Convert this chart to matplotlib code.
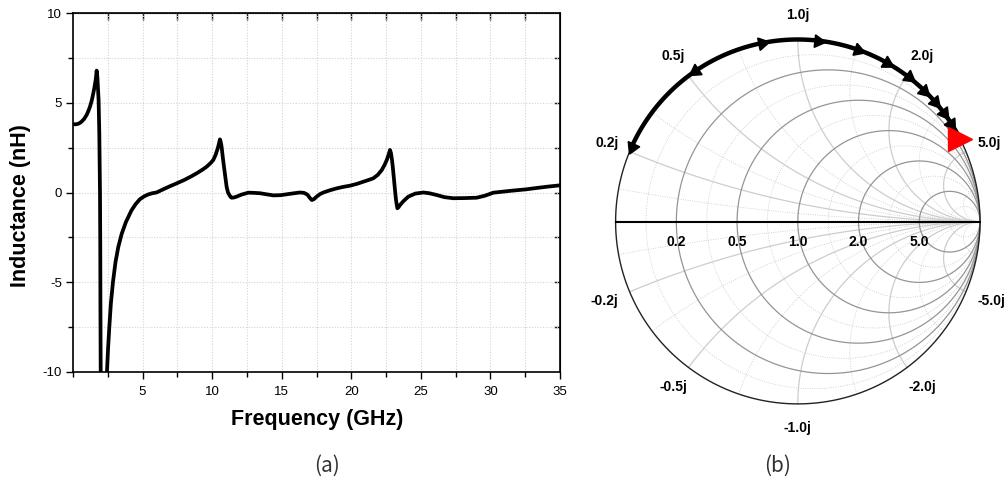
import numpy as np
import matplotlib
matplotlib.use("Agg")
import matplotlib.pyplot as plt
from matplotlib.ticker import MultipleLocator

plt.rcParams['font.family'] = ['Liberation Sans', 'DejaVu Sans']
plt.rcParams['axes.unicode_minus'] = False

# ---------------- data: (a) inductance vs frequency ----------------
freq_ghz = [0.00, 0.20, 0.38, 0.50, 0.62, 0.80, 0.98, 1.10, 1.22, 1.34, 1.46,
            1.55, 1.63, 1.67, 1.70, 1.75, 1.84, 1.89, 1.94, 1.96, 1.97, 1.99,
            2.01,
            np.nan,
            2.40, 2.44, 2.52, 2.61, 2.72, 2.87, 3.05, 3.25, 3.50, 3.80, 4.20,
            4.50, 4.80, 5.10, 5.40, 5.70, 6.00, 6.60, 7.00, 7.45, 8.00, 8.50,
            8.89, 9.30, 9.61, 9.90, 10.08, 10.25, 10.40, 10.50, 10.56,
            10.62, 10.68, 10.76, 10.85, 10.95, 11.04, 11.14, 11.24, 11.32,
            11.40, 11.55, 11.76, 12.10, 12.60, 13.00, 13.44, 13.90, 14.40,
            14.90, 15.36, 15.90, 16.31, 16.60, 16.85, 17.00, 17.16, 17.30,
            17.51, 17.75, 17.99, 18.45, 18.95, 19.40, 19.91, 20.40, 20.86,
            21.25, 21.58, 21.90, 22.19, 22.40, 22.55, 22.70, 22.78,
            22.85, 22.92, 22.98, 23.06, 23.14, 23.22, 23.31, 23.40, 23.50,
            23.75, 24.10, 24.60, 25.18, 25.60, 26.14, 26.70, 27.33, 28.20,
            29.01, 29.60, 30.21, 31.40, 32.61, 33.30, 34.04, 35.00]
inductance_nh = [3.80, 3.80, 3.83, 3.88, 3.95, 4.10, 4.32, 4.53, 4.78, 5.10, 5.53,
                 5.90, 6.27, 6.55, 6.79, 6.45, 5.15, 3.30, 0.00, -3.00, -6.00, -10.0,
                 -14.0,
                 np.nan,
                 -12.0, -10.0, -8.70, -7.50, -6.20, -5.00, -3.90, -3.05, -2.30,
                 -1.65, -1.00, -0.65, -0.38, -0.22, -0.11, -0.04, 0.00, 0.22,
                 0.36, 0.51, 0.70, 0.90, 1.07, 1.27, 1.44, 1.65, 1.81, 2.10,
                 2.45, 2.75, 2.96,
                 2.80, 2.55, 2.00, 1.44, 0.85, 0.32, 0.00, -0.14, -0.24,
                 -0.29, -0.28, -0.23, -0.12, -0.01, -0.02, -0.04, -0.10, -0.16,
                 -0.15, -0.10, -0.04, 0.00, -0.02, -0.12, -0.28, -0.42, -0.38,
                 -0.23, -0.09, 0.00, 0.12, 0.23, 0.31, 0.38, 0.48, 0.60,
                 0.70, 0.79, 0.98, 1.25, 1.55, 1.81, 2.15, 2.37,
                 2.20, 1.85, 1.44, 0.80, 0.14, -0.45, -0.88, -0.82, -0.70,
                 -0.48, -0.23, -0.06, 0.00, -0.04, -0.14, -0.26, -0.32, -0.31,
                 -0.29, -0.18, -0.01, 0.09, 0.18, 0.25, 0.32, 0.40]
x_ticks = [5, 10, 15, 20, 25, 30, 35]
y_ticks = [-10, -5, 0, 5, 10]

# ---------------- data: (b) Smith chart ----------------
r_major = [0.2, 0.5, 1.0, 2.0, 5.0]
r_major_labels = ['0.2', '0.5', '1.0', '2.0', '5.0']
x_major = [0.2, 0.5, 1.0, 2.0, 5.0, -0.2, -0.5, -1.0, -2.0, -5.0]
x_major_labels = ['0.2j', '0.5j', '1.0j', '2.0j', '5.0j',
                  '-0.2j', '-0.5j', '-1.0j', '-2.0j', '-5.0j']
minor_values = [1 / 11, 1 / 3, 5 / 7, 7 / 5, 3.0, 11.0]
trace_reactance = [0.215, 0.527, 0.818, 1.118, 1.413, 1.714, 2.03, 2.356,
                   2.66, 3.02, 3.43, 4.14]
trace_direction = [-1, -1, 1, 1, 1, 1, 1, 1, 1, 1, 1, 0]

W, H = 1006, 483
fig = plt.figure(figsize=(W / 100, H / 100), dpi=100)

# ---------------- (a) ----------------
L, R, T, B = 73, 560, 13, 372
ax = fig.add_axes([L / W, 1 - B / H, (R - L) / W, (B - T) / H])
ax.plot(freq_ghz, inductance_nh, color='black', lw=2.7, solid_capstyle='round',
        solid_joinstyle='round')
ax.set_xlim(0, 35)
ax.set_ylim(-10, 10)
ax.set_xticks(x_ticks)
ax.set_yticks(y_ticks)
ax.xaxis.set_minor_locator(MultipleLocator(2.5))
ax.yaxis.set_minor_locator(MultipleLocator(2.5))
ax.grid(True, which='both', color='#d4d4d4', lw=0.8, ls=(0, (1, 1.5)))
ax.set_axisbelow(True)
ax.tick_params(which='both', direction='out', labelsize=9.5, width=1.0, pad=3,
               colors='black')
ax.tick_params(which='major', length=5)
ax.tick_params(which='minor', length=3.5)
ax.tick_params(axis='x', pad=5)
for s in ax.spines.values():
    s.set_linewidth(1.2)
secx = ax.secondary_xaxis('top')
secx.set_xticks(np.arange(2.5, 35, 2.5))
secx.tick_params(direction='in', length=5, width=1.0, labeltop=False)
secy = ax.secondary_yaxis('right')
secy.set_yticks(np.arange(-7.5, 10, 2.5))
secy.tick_params(direction='in', length=4, width=1.0, labelright=False)

fig.text(21 / W, 1 - 206 / H, 'Inductance (nH)', rotation=90, ha='center',
         va='center', fontsize=15.5, fontweight='bold')
fig.text(317 / W, 1 - 420 / H, 'Frequency (GHz)', ha='center', va='center',
         fontsize=15.5, fontweight='bold')

cap_font = ['Noto Sans CJK KR', 'DejaVu Sans']
fig.text(327 / W, 1 - 466 / H, '(a)', ha='center', va='center', fontsize=15,
         family=cap_font, color='#333333')
fig.text(778 / W, 1 - 466 / H, '(b)', ha='center', va='center', fontsize=15,
         family=cap_font, color='#333333')

# ---------------- (b) Smith chart ----------------
cx, cy, rad = 797.8, 221.7, 182.2
sl, sr, st, sb = 590, 1006, 0, 440
sax = fig.add_axes([sl / W, 1 - sb / H, (sr - sl) / W, (sb - st) / H])
sax.set_xlim((sl - cx) / rad, (sr - cx) / rad)
sax.set_ylim((cy - sb) / rad, (cy - st) / rad)
sax.axis('off')


def r_circle(r):
    t = np.linspace(0, 2 * np.pi, 500)
    c = r / (1 + r)
    rr = 1 / (1 + r)
    return c + rr * np.cos(t), rr * np.sin(t)


def x_arc(x):
    s = np.linspace(0, np.pi / 2, 800)[:-1]
    z = np.tan(s) + 1j * x
    g = (z - 1) / (z + 1)
    g = np.append(g, 1 + 0j)
    return g.real, g.imag


for v in minor_values:
    u, w = r_circle(v)
    sax.plot(u, w, color='#c4c4c4', lw=0.6, ls=(0, (1, 1.8)))
    for sgn in (1, -1):
        u, w = x_arc(sgn * v)
        sax.plot(u, w, color='#c4c4c4', lw=0.6, ls=(0, (1, 1.8)))

for v in x_major:
    u, w = x_arc(v)
    sax.plot(u, w, color='#cdcdcd', lw=0.9)
for v in r_major:
    u, w = r_circle(v)
    sax.plot(u, w, color='#959595', lw=0.9)

t = np.linspace(0, 2 * np.pi, 800)
sax.plot(np.cos(t), np.sin(t), color='#222222', lw=1.0)
sax.plot([-1, 1], [0, 0], color='black', lw=1.5)

for v, lab in zip(r_major, r_major_labels):
    sax.text((v - 1) / (v + 1), -0.11, lab, ha='center', va='center',
             fontsize=10, fontweight='bold')

for v, lab in zip(x_major, x_major_labels):
    th = 2 * np.arctan(1 / v) if v > 0 else -2 * np.arctan(1 / -v)
    c, s = np.cos(th), np.sin(th)
    if abs(c) > 0.8:
        sax.text(np.sign(c) * 0.985, 1.13 * s, lab,
                 ha='right' if c < 0 else 'left',
                 va='center', fontsize=10, fontweight='bold')
    else:
        sax.text(1.14 * c, 1.135 * s, lab, ha='center', va='center',
                 fontsize=10, fontweight='bold')

# trace along the edge (rendered as arcs on the r = 0 circle)
th_pts = [2 * np.arctan(1 / v) for v in trace_reactance]
for a0, a1 in zip(th_pts[:-1], th_pts[1:]):
    tt = np.linspace(a0, a1, 60)
    sax.plot(np.cos(tt), np.sin(tt), color='black', lw=3.2,
             solid_capstyle='butt')
for th, d in zip(th_pts, trace_direction):
    if d == 0:
        continue
    phi = np.degrees(th) - 90 if d > 0 else np.degrees(th) + 90
    sax.plot(np.cos(th), np.sin(th), marker=(3, 0, phi - 90), ms=10.5,
             color='black', mec='black', ls='none')
sax.plot(np.cos(th_pts[-1]), np.sin(th_pts[-1]), marker='>', ms=17,
         color='red', mec='red', ls='none')

fig.savefig('out.png', dpi=100)
